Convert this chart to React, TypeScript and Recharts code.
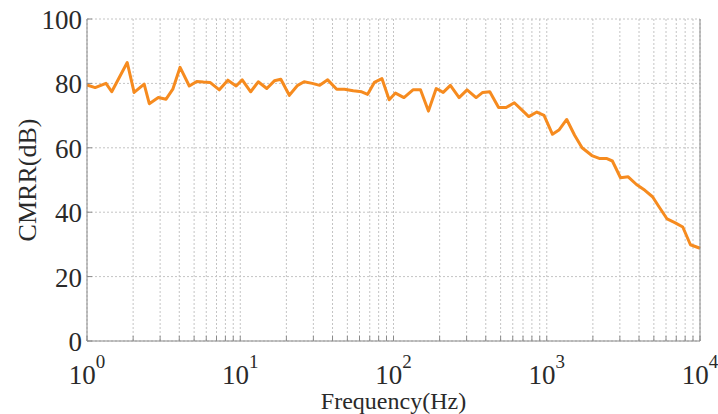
import { LineChart, Line, XAxis, YAxis, CartesianGrid, Label } from 'recharts';

const freqs = [
  1.0, 1.13, 1.33, 1.45, 1.83, 2.03, 2.36, 2.55, 2.92, 3.28, 3.63, 4.05, 4.65, 5.2, 5.75, 6.35, 7.3, 8.3, 9.4,
  10.3, 11.7, 13.1, 14.9, 16.7, 18.4, 20.9, 23.7, 26.1, 29.5, 33, 37.2, 42.6, 47.8, 54.6, 62, 67.8, 75, 84, 93.7,
  103, 117, 134, 150, 169, 190, 211, 235, 268, 302, 346, 382, 425, 485, 543, 614, 679, 763, 862, 960,
  1090, 1200, 1350, 1520, 1700, 1970, 2200, 2450, 2680, 3030, 3400, 3850, 4370, 4900, 5400, 6100, 6900, 7720, 8660, 10000,
];

const cmrr = [
  79.5, 78.7, 80, 77.4, 86.5, 77.2, 79.8, 73.7, 75.6, 75.1, 78.2, 85, 79.2, 80.6, 80.4, 80.3, 78, 81, 79.2,
  81.1, 77.4, 80.5, 78.4, 80.8, 81.3, 76.3, 79.4, 80.5, 80, 79.4, 81.1, 78.2, 78.2, 77.7, 77.4, 76.6, 80.3, 81.5, 74.9,
  77, 75.6, 78, 78, 71.4, 78.4, 77.2, 79.4, 75.6, 78, 75.6, 77.2, 77.4, 72.5, 72.5, 74, 72, 69.7, 71.1, 70.1,
  64.2, 65.5, 68.8, 63.9, 60, 57.6, 56.7, 56.7, 55.9, 50.7, 51, 48.6, 46.8, 44.8, 41.7, 37.9, 36.7, 35.4, 29.9, 28.8,
];

const majorTicks = [1, 10, 100, 1000, 10000];
const xTicks: number[] = [];
for (let d = 1; d < 10000; d *= 10) {
  for (let m = 1; m < 10; m++) xTicks.push(d * m);
}
xTicks.push(10000);
const yTicks = [0, 20, 40, 60, 80, 100];

const data = freqs.map((f, i) => ({ f, v: cmrr[i] }));

const FONT = '"Liberation Serif", "Times New Roman", serif';
const TEXT = '#2a2a2a';
const AXIS = '#8a8a8a';

function BottomTick({ x, y, payload }: any) {
  const v = payload.value;
  const major = majorTicks.includes(v);
  return (
    <g>
      <line x1={x} x2={x} y1={y} y2={y - 5} stroke={AXIS} strokeWidth={1} />
      {major && (
        <text x={x} y={y + 43} textAnchor="middle" fontFamily={FONT} fill={TEXT}>
          <tspan fontSize={27}>10</tspan>
          <tspan fontSize={19} dy={-16}>{Math.round(Math.log10(v))}</tspan>
        </text>
      )}
    </g>
  );
}

function TopTick({ x, y }: any) {
  return <line x1={x} x2={x} y1={y} y2={y + 5} stroke={AXIS} strokeWidth={1} />;
}

function LeftTick({ x, y, payload }: any) {
  return (
    <g>
      <line x1={x} x2={x + 5} y1={y} y2={y} stroke={AXIS} strokeWidth={1} />
      <text x={x - 5} y={y} dy={10} textAnchor="end" fontFamily={FONT} fontSize={27} fill={TEXT}>
        {payload.value}
      </text>
    </g>
  );
}

function RightTick({ x, y }: any) {
  return <line x1={x} x2={x - 5} y1={y} y2={y} stroke={AXIS} strokeWidth={1} />;
}

export default function App() {
  return (
    <div style={{ position: 'absolute', left: 0, top: 0, background: '#fff' }}>
      <LineChart width={718} height={414} data={data} margin={{ top: 19, right: 0, bottom: 0, left: 0 }}>
        <CartesianGrid stroke="#c4c4c4" strokeDasharray="2 2" />
        <XAxis
          dataKey="f"
          type="number"
          scale="log"
          domain={[1, 10000]}
          ticks={xTicks}
          interval={0}
          height={73}
          tickSize={0}
          tickMargin={0}
          tickLine={false}
          stroke={AXIS}
          tick={<BottomTick />}
        >
          <Label
            content={({ viewBox }: any) => (
              <text
                x={viewBox.x + viewBox.width / 2}
                y={409}
                textAnchor="middle"
                fontFamily={FONT}
                fontSize={24}
                fill={TEXT}
              >
                Frequency(Hz)
              </text>
            )}
          />
        </XAxis>
        <XAxis
          xAxisId="top"
          orientation="top"
          dataKey="f"
          type="number"
          scale="log"
          domain={[1, 10000]}
          ticks={xTicks}
          interval={0}
          height={0}
          tickSize={0}
          tickMargin={0}
          tickLine={false}
          stroke={AXIS}
          tick={<TopTick />}
        />
        <YAxis
          type="number"
          domain={[0, 100]}
          ticks={yTicks}
          interval={0}
          width={87}
          tickSize={0}
          tickMargin={0}
          tickLine={false}
          stroke={AXIS}
          tick={<LeftTick />}
        >
          <Label
            content={({ viewBox }: any) => {
              const cy = viewBox.y + viewBox.height / 2;
              return (
                <text
                  x={36}
                  y={cy}
                  transform={`rotate(-90, 36, ${cy})`}
                  textAnchor="middle"
                  fontFamily={FONT}
                  fontSize={26}
                  fill={TEXT}
                >
                  CMRR(dB)
                </text>
              );
            }}
          />
        </YAxis>
        <YAxis
          yAxisId="right"
          orientation="right"
          type="number"
          domain={[0, 100]}
          ticks={yTicks}
          interval={0}
          width={18}
          tickSize={0}
          tickMargin={0}
          tickLine={false}
          stroke={AXIS}
          tick={<RightTick />}
        />
        <Line
          dataKey="v"
          stroke="#f68b1f"
          strokeWidth={3}
          dot={false}
          isAnimationActive={false}
          strokeLinejoin="round"
        />
      </LineChart>
    </div>
  );
}
